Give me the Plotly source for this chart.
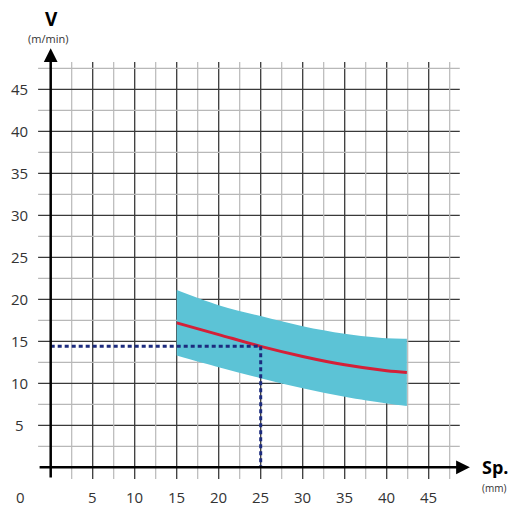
import plotly.graph_objects as go

# ---- data ----
sp = [15, 20, 25, 30, 35, 40, 42.4]
v_mid = [17.2, 15.8, 14.4, 13.2, 12.2, 11.5, 11.3]
v_upper = [21.1, 19.3, 18.0, 16.8, 15.9, 15.35, 15.3]
v_lower = [13.3, 11.9, 10.6, 9.4, 8.4, 7.6, 7.3]

guide_x = 25
guide_y = 14.4

x_ticks = [5, 10, 15, 20, 25, 30, 35, 40, 45]
y_ticks = [5, 10, 15, 20, 25, 30, 35, 40, 45]
grid_steps = [2.5 * i for i in range(1, 20)]  # 2.5 .. 47.5

# ---- geometry (8.4 px / unit), origin at px (50.7, 467.3) ----
PX = 8.4
W, H = 512, 510
OX, OY = 50.7, 467.3
X_RANGE = [-OX / PX, (W - OX) / PX]
Y_RANGE = [-(H - OY) / PX, OY / PX]

fig = go.Figure()

# band
fig.add_trace(go.Scatter(x=sp, y=v_lower, mode="lines", line=dict(width=0, shape="spline"),
                         hoverinfo="skip", showlegend=False))
fig.add_trace(go.Scatter(x=sp, y=v_upper, mode="lines", line=dict(width=0, shape="spline"),
                         fill="tonexty", fillcolor="#5cc3d6", hoverinfo="skip", showlegend=False))
# mid curve
fig.add_trace(go.Scatter(x=sp, y=v_mid, mode="lines", line=dict(color="#d42038", width=3, shape="spline"),
                         showlegend=False))
# guide
fig.add_trace(go.Scatter(x=[0, guide_x, guide_x], y=[guide_y, guide_y, 0], mode="lines",
                         line=dict(color="#1c2b7e", width=3, dash="4px,3px"), showlegend=False))

shapes = []
for g in grid_steps:
    major = (g % 5 == 0)
    col = "#3a3a3a" if major else "#b8b8b8"
    w = 1.3 if major else 1.2
    shapes.append(dict(type="line", xref="x", yref="y", x0=g, x1=g, y0=-1.4, y1=48.25,
                       line=dict(color=col, width=w), layer="below"))
    shapes.append(dict(type="line", xref="x", yref="y", x0=-1.5, x1=48.7, y0=g, y1=g,
                       line=dict(color=col, width=w), layer="below"))

annotations = []
font_tick = dict(family="Open Sans, sans-serif", size=15, color="#333333")
for t in x_ticks:
    annotations.append(dict(x=t, y=-3.54, text=str(t), showarrow=False, xref="x", yref="y",
                            xanchor="center", yanchor="middle", font=font_tick))
for t in y_ticks:
    annotations.append(dict(x=-3.77, y=t, text=str(t), showarrow=False, xref="x", yref="y",
                            xanchor="center", yanchor="middle", font=font_tick))
annotations.append(dict(x=-3.65, y=-3.54, text="0", showarrow=False, xref="x", yref="y",
                        xanchor="center", yanchor="middle", font=font_tick))

# axis arrows
annotations.append(dict(x=0, y=49.9, ax=0, ay=-1.4, xref="x", yref="y", axref="x", ayref="y",
                        showarrow=True, arrowhead=2, arrowsize=1.1, arrowwidth=2.5,
                        arrowcolor="#000000", text=""))
annotations.append(dict(x=49.9, y=0, ax=-1.5, ay=0, xref="x", yref="y", axref="x", ayref="y",
                        showarrow=True, arrowhead=2, arrowsize=1.1, arrowwidth=2.5,
                        arrowcolor="#000000", text=""))

# axis titles
annotations.append(dict(x=0.15, y=53.4, text="<b>V</b>", showarrow=False, xref="x", yref="y",
                        font=dict(family="Open Sans, sans-serif", size=19, color="#000000")))
annotations.append(dict(x=-0.32, y=51.0, text="(m/min)", showarrow=False, xref="x", yref="y",
                        font=dict(family="Open Sans, sans-serif", size=11, color="#333333")))
annotations.append(dict(x=52.9, y=0.04, text="<b>Sp.</b>", showarrow=False, xref="x", yref="y",
                        font=dict(family="Open Sans, sans-serif", size=18, color="#000000")))
annotations.append(dict(x=52.8, y=-2.46, text="(mm)", showarrow=False, xref="x", yref="y",
                        font=dict(family="Open Sans, sans-serif", size=10, color="#333333")))

fig.update_layout(
    width=W, height=H,
    margin=dict(l=0, r=0, t=0, b=0),
    paper_bgcolor="white", plot_bgcolor="white",
    xaxis=dict(range=X_RANGE, visible=False, fixedrange=True),
    yaxis=dict(range=Y_RANGE, visible=False, fixedrange=True),
    shapes=shapes,
    annotations=annotations,
    showlegend=False,
)

fig.write_html("out.html", config={"displayModeBar": False},
               post_script="document.body.style.margin='0';document.body.style.overflow='hidden';")
